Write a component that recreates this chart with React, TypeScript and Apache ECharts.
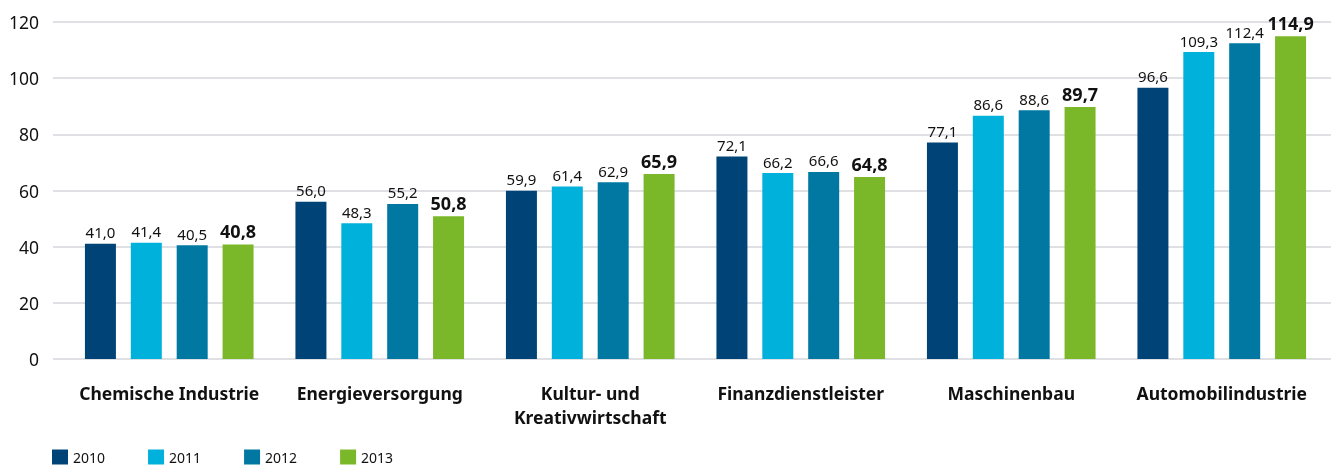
import React, { useEffect, useRef } from "react";
import * as echarts from "echarts";

const categories = [
  "Chemische Industrie",
  "Energieversorgung",
  "Kultur- und\nKreativwirtschaft",
  "Finanzdienstleister",
  "Maschinenbau",
  "Automobilindustrie",
];
const years = ["2010", "2011", "2012", "2013"];
const values2010 = [41.0, 56.0, 59.9, 72.1, 77.1, 96.6];
const values2011 = [41.4, 48.3, 61.4, 66.2, 86.6, 109.3];
const values2012 = [40.5, 55.2, 62.9, 66.6, 88.6, 112.4];
const values2013 = [40.8, 50.8, 65.9, 64.8, 89.7, 114.9];
const yTicks = [0, 20, 40, 60, 80, 100, 120];

const colors = ["#004477", "#00b1db", "#0078a2", "#7ab829"];
const FONT = "'Noto Sans', 'Open Sans', sans-serif";

export default function App() {
  const ref = useRef<HTMLDivElement>(null);
  useEffect(() => {
    if (!ref.current) return;
    const chart = echarts.init(ref.current, null, { renderer: "svg" });
    const seriesData = [values2010, values2011, values2012, values2013];
    const fmt = (v: number) => v.toFixed(1).replace(".", ",");
    chart.setOption({
      animation: false,
      textStyle: { fontFamily: FONT },
      grid: [
        { left: 64, right: 4, top: 22, bottom: 107 },
        { left: 53, right: 0, top: 22, bottom: 107 },
      ],
      xAxis: [
        {
          type: "category",
          gridIndex: 0,
          data: categories,
          axisLine: { show: false },
          axisTick: { show: false },
          axisLabel: {
            interval: 0,
            margin: 22,
            fontSize: 17.5,
            fontWeight: "bold",
            color: "#111",
            lineHeight: 24,
            fontFamily: FONT,
          },
        },
        {
          type: "category",
          gridIndex: 1,
          data: ["a"],
          show: false,
        },
      ],
      yAxis: [
        {
          type: "value",
          gridIndex: 0,
          min: 0,
          max: 120,
          interval: 20,
          show: false,
          splitLine: { show: false },
        },
        {
          type: "value",
          gridIndex: 1,
          min: yTicks[0],
          max: yTicks[yTicks.length - 1],
          interval: 20,
          axisLine: { show: false },
          axisTick: { show: false },
          axisLabel: { fontSize: 17.5, color: "#111", margin: 14, fontFamily: FONT },
          splitLine: { lineStyle: { color: "#d3d6db", width: 1.5 } },
        },
      ],
      legend: {
        left: 52,
        top: 449,
        padding: 0,
        itemWidth: 16,
        itemHeight: 15,
        itemGap: 43,
        icon: "rect",
        data: years,
        textStyle: { fontSize: 14, lineHeight: 16, color: "#111", fontFamily: FONT },
      },
      series: years.map((y, i) => ({
        name: y,
        type: "bar",
        xAxisIndex: 0,
        yAxisIndex: 0,
        data: seriesData[i],
        barWidth: 31,
        barGap: "48%",
        itemStyle: { color: colors[i] },
        label: {
          show: true,
          position: "top",
          distance: 4,
          formatter: (p: any) => fmt(p.value),
          fontSize: i === 3 ? 18 : 15,
          fontWeight: i === 3 ? "bold" : "normal",
          color: "#111",
          fontFamily: FONT,
        },
      })),
    });
    return () => chart.dispose();
  }, []);
  return (
    <div
      ref={ref}
      style={{ position: "fixed", left: 0, top: 0, width: 1331, height: 466 }}
    />
  );
}
